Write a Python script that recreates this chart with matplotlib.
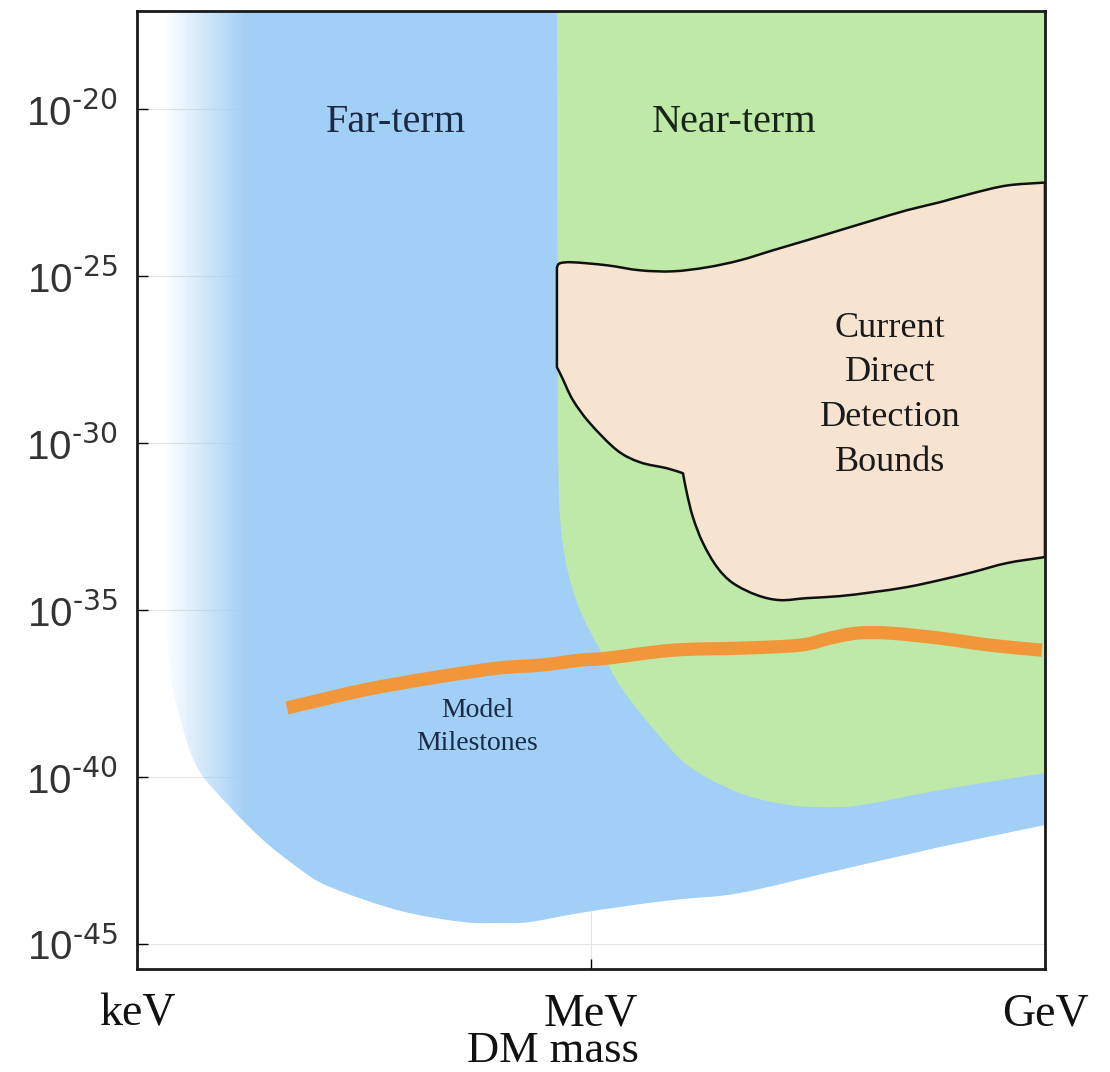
import numpy as np
import matplotlib
matplotlib.use("Agg")
import matplotlib.pyplot as plt
from matplotlib.patches import PathPatch
from matplotlib.path import Path
from matplotlib.colors import LinearSegmentedColormap, to_rgba

# all values are log10: mass in eV, cross section in cm^2
mass_lim = (3.0, 9.0)
xsec_lim = (-45.75, -17.05)
mass_ticks = [3, 6, 9]
mass_labels = ["keV", "MeV", "GeV"]
xsec_ticks = [-45, -40, -35, -30, -25, -20]

# far-term reach: left fade edge and lower boundary
far_fade = (3.18, 3.72)
far_mass = [3.152, 3.165, 3.185, 3.218, 3.284, 3.396, 3.615, 3.833, 4.057, 4.275,
            4.718, 5.154, 5.379, 5.597, 5.927, 6.542, 6.985, 7.645, 8.306, 9.0]
far_xsec = [-17.05, -31.71, -34.70, -36.80, -38.20, -39.70, -40.90, -41.89, -42.69, -43.29,
            -43.98, -44.34, -44.37, -44.34, -44.07, -43.68, -43.47, -42.78, -42.10, -41.44]

# near-term reach (lower boundary, right to left)
near_mass = [9.0, 8.306, 7.864, 7.645, 7.315, 6.985, 6.654, 6.436, 6.212, 6.060,
             5.927, 5.841, 5.795, 5.782]
near_xsec = [-39.88, -40.39, -40.78, -40.90, -40.84, -40.48, -39.70, -38.68, -37.40, -36.20,
             -35.00, -33.71, -32.22, -30.21]
near_edge = 5.775

# current direct detection bounds (closed outline)
bound_mass = [5.775, 5.795, 5.881, 6.106, 6.324, 6.542, 6.767, 6.985, 7.203, 7.427,
              7.645, 7.864, 8.088, 8.306, 8.524, 8.749, 9.0,
              9.0, 8.749, 8.524, 8.306, 8.088, 7.864, 7.645, 7.427, 7.249, 7.097,
              6.938, 6.833, 6.740, 6.674, 6.634, 6.608, 6.502, 6.324, 6.172, 5.993,
              5.881, 5.808, 5.775]
bound_xsec = [-24.73, -24.61, -24.58, -24.67, -24.82, -24.85, -24.73, -24.52, -24.22, -23.92,
              -23.62, -23.32, -23.02, -22.78, -22.51, -22.28, -22.19,
              -33.41, -33.59, -33.86, -34.10, -34.31, -34.46, -34.58, -34.64, -34.70, -34.55,
              -34.19, -33.71, -32.99, -32.22, -31.50, -30.90, -30.75, -30.57, -30.21, -29.40,
              -28.71, -28.02, -27.72]
bound_corners = [0, 16, 17, 32, 39]

# model milestones curve
model_mass = [3.991, 4.493, 4.936, 5.379, 5.663, 5.927, 6.106, 6.542, 6.985, 7.381,
              7.579, 7.758, 7.976, 8.306, 8.637, 8.98]
model_xsec = [-37.93, -37.40, -37.04, -36.74, -36.65, -36.50, -36.44, -36.20, -36.14, -36.05,
              -35.84, -35.69, -35.69, -35.84, -36.05, -36.20]

blue = "#a2cff5"
green = "#bee9a8"
beige = "#f7e4d0"
orange = "#f2963a"
serif = "Liberation Serif"


def smooth_path(lm, lx, corners=(), closed=False):
    """Bezier path through log10 points; corner points keep a sharp turn."""
    p = np.column_stack([lm, lx]).astype(float)
    n = len(p)

    def tangent(i, side):
        sharp = i in corners or (not closed and i in (0, n - 1))
        if sharp:
            if side == "out":
                return p[(i + 1) % n] - p[i]
            return p[i] - p[i - 1]
        return (p[(i + 1) % n] - p[i - 1]) / 2

    verts = [p[0]]
    codes = [Path.MOVETO]
    for i in range(n if closed else n - 1):
        j = (i + 1) % n
        verts += [p[i] + tangent(i, "out") / 3, p[j] - tangent(j, "in") / 3, p[j]]
        codes += [Path.CURVE4] * 3
    if closed:
        verts.append(p[0])
        codes.append(Path.CLOSEPOLY)
    return Path(10.0 ** np.array(verts), codes)


fig = plt.figure(figsize=(11.1, 10.72), dpi=100)
ax = fig.add_axes([0.1234, 0.0961, 0.818, 0.8937])
ax.set_xscale("log")
ax.set_yscale("log")
ax.set_xlim(10.0 ** mass_lim[0], 10.0 ** mass_lim[1])
ax.set_ylim(10.0 ** xsec_lim[0], 10.0 ** xsec_lim[1])

# far-term region: blue with a fade on the low-mass side
far_m = far_mass + [mass_lim[1]]
far_x = far_xsec + [xsec_lim[1]]
far_patch = PathPatch(smooth_path(far_m, far_x, corners=[0, len(far_m) - 2, len(far_m) - 1],
                                  closed=True), transform=ax.transData)
xe = np.linspace(mass_lim[0], mass_lim[1], 800)
xc = 0.5 * (xe[1:] + xe[:-1])
fade = np.clip((xc - far_fade[0]) / (far_fade[1] - far_fade[0]), 0, 1)
cmap = LinearSegmentedColormap.from_list("fade", [to_rgba(blue, 0.0), to_rgba(blue, 1.0)])
mesh = ax.pcolormesh(10.0 ** xe, 10.0 ** np.array(xsec_lim), fade[None, :],
                     cmap=cmap, vmin=0, vmax=1, shading="flat",
                     edgecolors="none", antialiased=False, zorder=1)
mesh.set_clip_path(far_patch)

# near-term region
near_m = [near_edge, mass_lim[1]] + near_mass
near_x = [xsec_lim[1], xsec_lim[1]] + near_xsec
ax.add_patch(PathPatch(smooth_path(near_m, near_x, corners=[0, 1, 2, len(near_m) - 1],
                                   closed=True),
                       facecolor=green, edgecolor="none", zorder=2))

# existing bounds
ax.add_patch(PathPatch(smooth_path(bound_mass, bound_xsec, corners=bound_corners, closed=True),
                       facecolor=beige, edgecolor="#111111", linewidth=1.8,
                       joinstyle="round", zorder=3))

ax.add_patch(PathPatch(smooth_path(model_mass, model_xsec), facecolor="none",
                       edgecolor=orange, linewidth=9.5, capstyle="butt",
                       joinstyle="round", zorder=4))

ax.text(10 ** 4.711, 10 ** -20.39, "Far-term", family=serif, fontsize=29,
        color="#1b2b45", ha="center", va="center", zorder=5)
ax.text(10 ** 6.945, 10 ** -20.39, "Near-term", family=serif, fontsize=29,
        color="#172617", ha="center", va="center", zorder=5)
ax.text(10 ** 7.976, 10 ** -28.56, "Current\nDirect\nDetection\nBounds",
        family=serif, fontsize=26, color="#1a1a1a", ha="center", va="center",
        linespacing=1.47, zorder=5)
ax.text(10 ** 5.247, 10 ** -38.50, "Model\nMilestones", family=serif, fontsize=20,
        color="#1b2b45", ha="center", va="center", linespacing=1.45, zorder=5)

# axes, ticks and grid
ax.xaxis.set_major_locator(matplotlib.ticker.FixedLocator([10.0 ** t for t in mass_ticks]))
ax.xaxis.set_major_formatter(matplotlib.ticker.FixedFormatter(mass_labels))
ax.yaxis.set_major_locator(matplotlib.ticker.FixedLocator([10.0 ** t for t in xsec_ticks]))
ax.yaxis.set_major_formatter(matplotlib.ticker.FixedFormatter(
    [r"$\mathregular{10^{\text{%d}}}$" % t for t in xsec_ticks]))
ax.xaxis.set_minor_locator(matplotlib.ticker.NullLocator())
ax.yaxis.set_minor_locator(matplotlib.ticker.NullLocator())

ax.tick_params(axis="x", direction="in", length=7, width=1, pad=17,
               labelsize=33, labelfontfamily=serif, labelcolor="#111111")
ax.tick_params(axis="y", direction="in", length=8, width=1, pad=14,
               labelsize=29, labelfontfamily="Liberation Sans", labelcolor="#333333")

ax.set_axisbelow(True)
ax.grid(True, color="#e4e4e4", linewidth=0.8, zorder=0)

for side in ax.spines.values():
    side.set_linewidth(2.0)
    side.set_color("#1a1a1a")
    side.set_zorder(6)

ax.set_xlabel("DM mass", family=serif, fontsize=32, color="#111111")
ax.xaxis.set_label_coords(0.458, -0.0975)
ax.xaxis.label.set_va("baseline")

fig.savefig("out.png", dpi=100)
